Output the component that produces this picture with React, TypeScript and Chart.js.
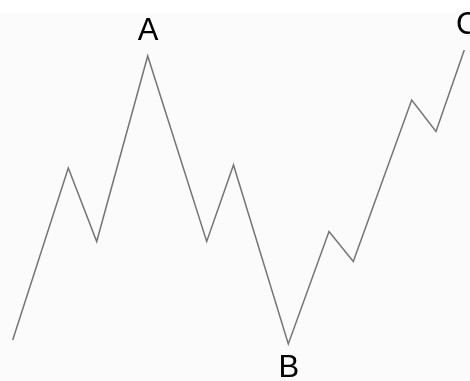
import React, { useEffect, useRef } from "react";
import { Chart, registerables } from "chart.js";

Chart.register(...registerables);

// Wave points (x position, level)
const xs = [12.7, 68.3, 96.7, 147.7, 206.7, 233.5, 288.3, 329, 353.3, 411.7, 436, 464.3];
const levels = [41, 213, 139.5, 325, 139.5, 216, 37, 149.5, 119.5, 281, 249.5, 331];
const pointLabels = ["", "", "", "A", "", "", "B", "", "", "", "", "C"];

const labelPlugin = {
  id: "waveLabels",
  beforeDraw(chart: any) {
    const ctx = chart.ctx;
    ctx.save();
    ctx.fillStyle = "#fbfbfb";
    ctx.fillRect(0, 13, chart.width, chart.height - 13);
    ctx.restore();
  },
  afterDatasetsDraw(chart: any) {
    const ctx = chart.ctx;
    const meta = chart.getDatasetMeta(0);
    ctx.save();
    ctx.fillStyle = "#000000";
    ctx.font = "31px 'Liberation Sans', Arial, sans-serif";
    ctx.textAlign = "center";
    ctx.textBaseline = "alphabetic";
    pointLabels.forEach((lab, i) => {
      if (!lab) return;
      const p = meta.data[i];
      const isLow = i > 0 && i < levels.length - 1 && levels[i] < levels[i - 1] && levels[i] < levels[i + 1];
      const dx = i === levels.length - 1 ? 3 : 0.5;
      const dy = isLow ? 33 : -16;
      ctx.fillText(lab, p.x + dx, p.y + dy);
    });
    ctx.restore();
  },
};

export default function App() {
  const ref = useRef<HTMLCanvasElement | null>(null);
  useEffect(() => {
    document.body.style.margin = "0";
    const chart = new Chart(ref.current as HTMLCanvasElement, {
      type: "line",
      data: {
        datasets: [
          {
            data: xs.map((x, i) => ({ x, y: levels[i] })),
            borderColor: "#757575",
            borderWidth: 1.5,
            pointRadius: 0,
            tension: 0,
            fill: false,
          },
        ],
      },
      options: {
        animation: false,
        responsive: false,
        maintainAspectRatio: false,
        layout: { padding: 0 },
        plugins: { legend: { display: false }, tooltip: { enabled: false } },
        scales: {
          x: { type: "linear", min: 0, max: 470, display: false },
          y: { type: "linear", min: 0, max: 381, display: false },
        },
      },
      plugins: [labelPlugin],
    });
    return () => chart.destroy();
  }, []);
  return (
    <div style={{ position: "absolute", left: 0, top: 0, width: 470, height: 381 }}>
      <canvas ref={ref} width={470} height={381} style={{ width: 470, height: 381 }} />
    </div>
  );
}
